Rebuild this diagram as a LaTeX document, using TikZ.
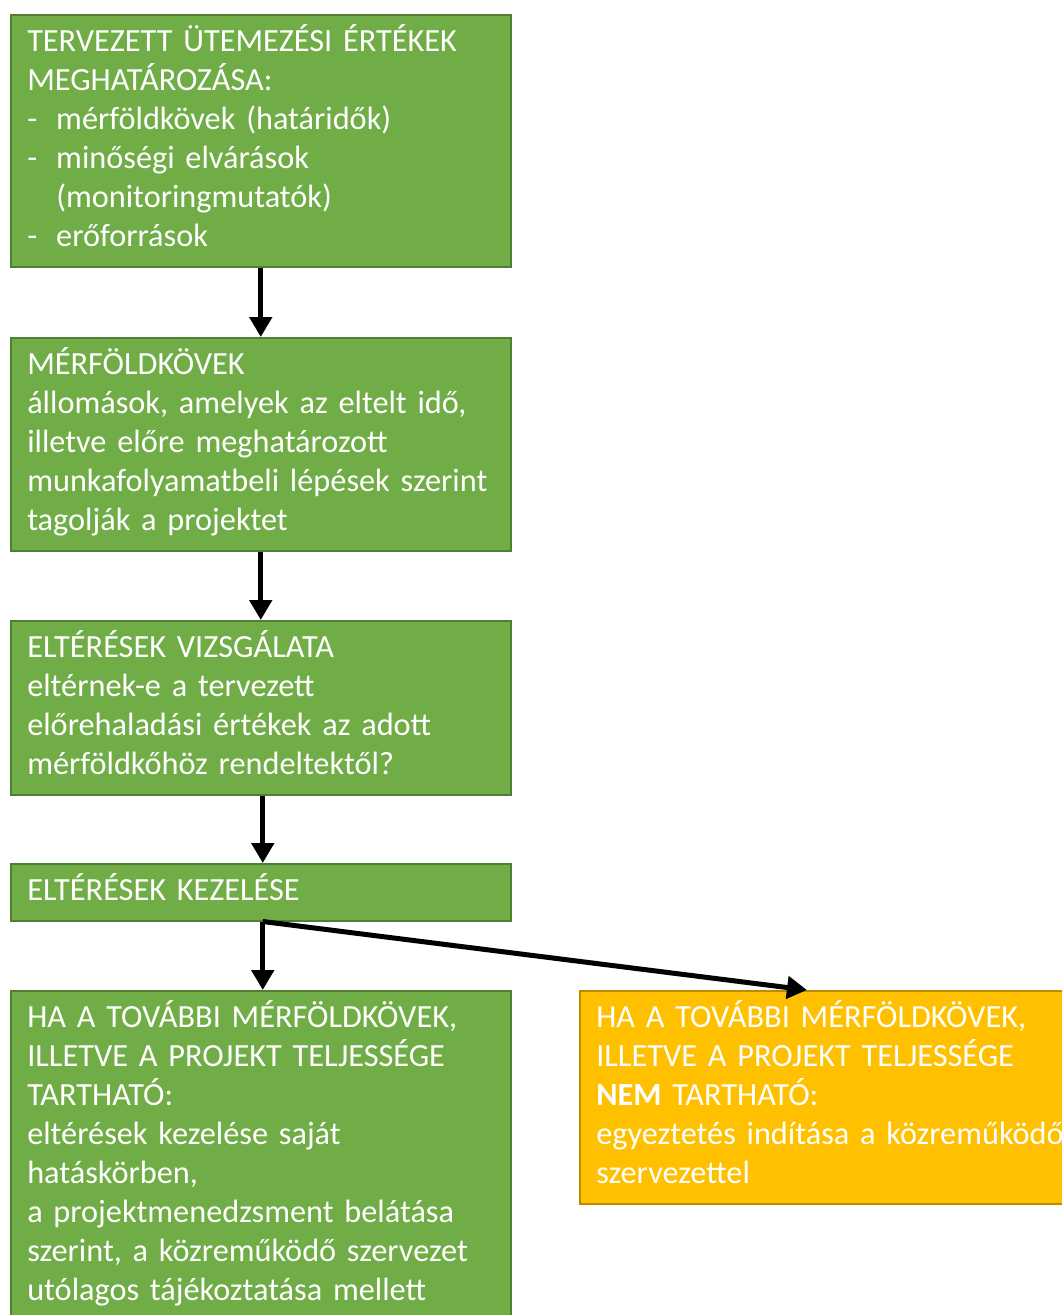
\documentclass[tikz,border=0pt]{standalone}
\usepackage{fontspec}
\setmainfont{Carlito}[WordSpace=0.65]
\usetikzlibrary{arrows.meta,positioning}
\definecolor{boxgreen}{HTML}{70AD47}
\definecolor{greenline}{HTML}{507E32}
\definecolor{boxorange}{HTML}{FFC000}
\definecolor{orangeline}{HTML}{BC8C00}
\tikzset{
  gbox/.style={draw=greenline, fill=boxgreen, line width=1.5pt, text=white,
    anchor=north west, inner xsep=16.5pt, inner ysep=9pt, text width=467pt,
    align=left, font=\fontsize{32.3}{39}\selectfont},
  obox/.style={gbox, draw=orangeline, fill=boxorange, text width=520pt},
  arr/.style={line width=5pt, -{Triangle[length=20pt,width=22pt]}},
}
\newcommand{\dashitem}{\makebox[29pt][l]{-}}
\begin{document}
\begin{tikzpicture}[x=1pt,y=-1pt]
\useasboundingbox (0,0) rectangle (1062,1315);
\begin{scope}
\clip (0,0) rectangle (1062,1315);
\node[gbox] (b1) at (10,14) {\strut TERVEZETT ÜTEMEZÉSI ÉRTÉKEK\\
MEGHATÁROZÁSA:\\
\dashitem mérföldkövek (határidők)\\
\dashitem minőségi elvárások\\
\hspace*{29pt}(monitoringmutatók)\\
\dashitem erőforrások\strut};
\node[gbox] (b2) at (10,337) {\strut MÉRFÖLDKÖVEK\\
állomások, amelyek az eltelt idő,\\
illetve előre meghatározott\\
munkafolyamatbeli lépések szerint\\
tagolják a projektet\strut};
\node[gbox] (b3) at (10,620) {\strut ELTÉRÉSEK VIZSGÁLATA\\
eltérnek-e a tervezett\\
előrehaladási értékek az adott\\
mérföldkőhöz rendeltektől?\strut};
\node[gbox] (b4) at (10,863) {\strut ELTÉRÉSEK KEZELÉSE\strut};
\node[gbox] (b5) at (10,990) {\strut HA A TOVÁBBI MÉRFÖLDKÖVEK,\\
ILLETVE A PROJEKT TELJESSÉGE\\
TARTHATÓ:\\
eltérések kezelése saját\\
hatáskörben,\\
a projektmenedzsment belátása\\
szerint, a közreműködő szervezet\\
utólagos tájékoztatása mellett\strut};
\node[obox] (b6) at (579,990) {\strut HA A TOVÁBBI MÉRFÖLDKÖVEK,\\
ILLETVE A PROJEKT TELJESSÉGE\\
\textbf{NEM} TARTHATÓ:\\
egyeztetés indítása a közreműködő\\
szervezettel\strut};
\coordinate (split) at ([xshift=2pt]b4.south);
\coordinate (tip6) at ([xshift=228pt]b6.north west);
\draw[arr] (b1.south) -- (b2.north);
\draw[arr] (b2.south) -- (b3.north);
\draw[arr] ([xshift=2pt]b3.south) -- ([xshift=2pt]b4.north);
\draw[arr] (split) -- (split |- b5.north);
\draw[arr] (split) -- (tip6);
\end{scope}
\end{tikzpicture}
\end{document}
